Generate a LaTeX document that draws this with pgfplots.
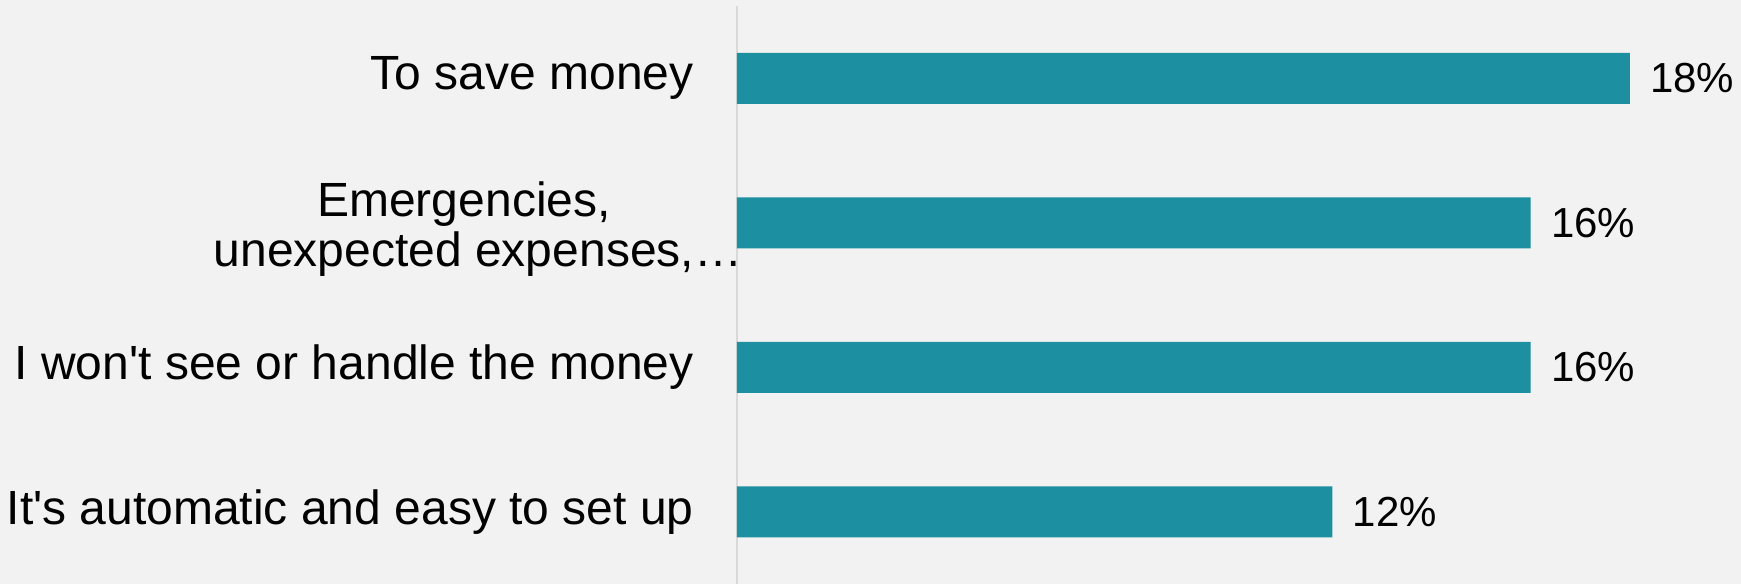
\documentclass[border=0pt]{standalone}
\usepackage{pgfplots}
\pgfplotsset{compat=1.18}
\usepackage{fontspec}
\setmainfont{Liberation Sans}[Ligatures=TeXOff]
\definecolor{bg}{HTML}{F2F2F2}
\definecolor{barc}{HTML}{1C8FA1}
\definecolor{axc}{HTML}{D9D9D9}
\begin{document}
\begin{tikzpicture}
\fill[bg] (0,0) rectangle (870.5pt,292pt);
\begin{axis}[
 at={(368.5pt,0pt)}, anchor=south west,
 scale only axis, width=502pt, height=289pt,
 xbar, xmin=0, xmax=20.24, ymin=-0.5, ymax=3.5, y dir=reverse,
 bar width=0.353,
 axis x line=none, axis y line=left,
 y axis line style={draw=axc, line width=1pt, -},
 ytick={0,1,2,3},
 yticklabels={{To save money},{\raisebox{0pt}[\dimexpr\height+9pt\relax][\depth]{\begin{tabular}{@{}c@{}}Emergencies,\hspace*{14pt}\\unexpected expenses,…\end{tabular}}\hspace*{-24.3pt}},{I won't see or handle the money},{It's automatic and easy to set up}},
 major tick length=0pt,
 yticklabel style={font=\fontsize{24}{25}\selectfont, anchor=east, inner sep=0pt, xshift=-21.5pt},
 point meta=x,
 nodes near coords={\pgfmathprintnumber[assume math mode=true]{\pgfplotspointmeta}\%},
 nodes near coords style={font=\fontsize{21}{25}\selectfont, anchor=west, inner sep=0pt, xshift=10pt, text=black},
]
\addplot[fill=barc, draw=none] coordinates {(18,0) (16,1) (16,2) (12,3)};
\end{axis}
\pgfresetboundingbox
\path (0,0) rectangle (870.5pt,292pt);
\end{tikzpicture}
\end{document}
